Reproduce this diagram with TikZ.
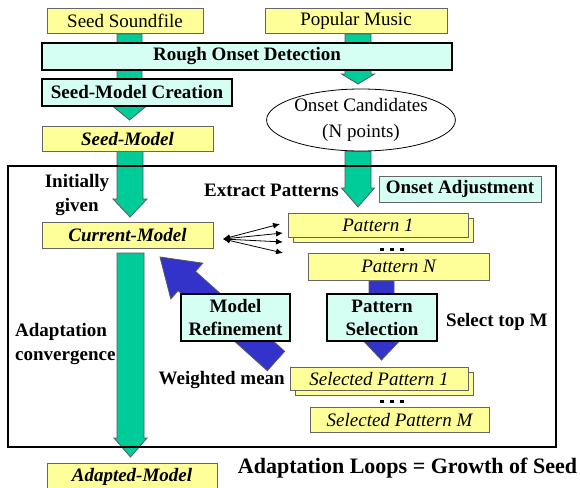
\documentclass[tikz,border=0pt]{standalone}
\usepackage{fontspec}
\setmainfont{Liberation Serif}
\usetikzlibrary{calc,shapes.geometric,arrows.meta}

\definecolor{padyellow}{RGB}{255,255,153}
\definecolor{procmint}{RGB}{214,255,243}
\definecolor{flowgreen}{RGB}{0,204,153}
\definecolor{flowblue}{RGB}{51,51,204}

% Block arrow: #1 fill, #2 start, #3 tip, #4 half shaft width,
% #5 half head width, #6 head length
\newcommand{\fatarrow}[6]{%
  \coordinate (fa-s) at (#2);
  \coordinate (fa-t) at (#3);
  \coordinate (fa-h) at ($(fa-t)!#6!(fa-s)$);
  \filldraw[blockedge, fill=#1]
    ($(fa-s)!#4!90:(fa-t)$) -- ($(fa-h)!#4!-90:(fa-s)$) --
    ($(fa-h)!#5!-90:(fa-s)$) -- (fa-t) --
    ($(fa-h)!#5!90:(fa-s)$) -- ($(fa-h)!#4!90:(fa-s)$) --
    ($(fa-s)!#4!-90:(fa-t)$) -- cycle;
}

% Three square dots centred on a point
\newcommand{\ellipsisdots}[1]{%
  \foreach \dx in {-10,0,10}
    \fill ($(#1)+(\dx,0)$) ++(-1.6,-1.6) rectangle ++(3.2,3.2);
}

\begin{document}
\begin{tikzpicture}[x=1pt,y=-1pt,
  every node/.style={font=\fontsize{19}{23}\selectfont, inner sep=0pt, align=center},
  blockedge/.style={draw=black!65, line width=0.8pt, line join=miter},
  databox/.style={draw=black!60, line width=0.8pt, fill=padyellow},
  procbox/.style={draw=black, line width=2pt, fill=procmint,
    font=\fontsize{19}{23}\selectfont\bfseries},
  notebox/.style={draw=black!60, line width=0.8pt, fill=procmint,
    font=\fontsize{19}{23}\selectfont\bfseries},
  caption/.style={font=\fontsize{19}{24}\selectfont\bfseries},
  fan/.style={{Latex[length=7pt,width=6pt]}-{Latex[length=7pt,width=6pt]}, line width=0.8pt}
]
\clip (0,0) rectangle (580,487);
\fill[white] (0,0) rectangle (580,487);

% ---------- flow arrows (drawn first, boxes sit on top) ----------
\fatarrow{flowgreen}{129.5,34}{129.5,120}{12.5pt}{17pt}{14pt}
\fatarrow{flowgreen}{358,34}{358,84}{13pt}{16.5pt}{10pt}
\fatarrow{flowgreen}{130,151}{130,217}{13pt}{17pt}{18pt}
\fatarrow{flowgreen}{358,151}{358,207}{13pt}{16.5pt}{19pt}
\fatarrow{flowgreen}{130.5,253}{130.5,457}{13.5pt}{16.5pt}{19pt}
\fatarrow{flowblue}{381.5,281}{381.5,360}{12.5pt}{17pt}{18pt}
\fatarrow{flowblue}{276,361}{160,257}{13pt}{24pt}{36pt}

% ---------- input stage ----------
\node[databox, minimum width=156pt, minimum height=25pt] (seedsf) at (125,20.5) {Seed Soundfile};
\node[databox, minimum width=182pt, minimum height=25pt] (popmus) at (356,20.5) {Popular Music};
\node[procbox, minimum width=410pt, minimum height=27pt] (rough) at (247,56.5) {Rough Onset Detection};
\node[procbox, minimum width=190pt, minimum height=27pt] (smc) at (137,92.5) {Seed-Model Creation};
\node[databox, minimum width=171pt, minimum height=25pt,
  font=\fontsize{19}{23}\selectfont\bfseries\itshape] (seedmodel) at (127.5,138.5) {Seed-Model};
\node[ellipse, draw=black, line width=0.8pt, fill=white, minimum width=182pt,
  minimum height=62pt, font=\fontsize{19}{26}\selectfont] (cand) at (361,120)
  {Onset Candidates\\(N points)};

% ---------- adaptation loop ----------
\draw[line width=2.2pt] (8,166) rectangle (556,447);

\node[caption] (initgiven) at (77,195) {Initially\\given};
\node[caption] (extract) at (271.5,190) {Extract Patterns};
\node[notebox, minimum width=162pt, minimum height=26pt] (adjust) at (460,189) {Onset Adjustment};

\node[databox, minimum width=171pt, minimum height=26pt,
  font=\fontsize{19}{23}\selectfont\bfseries\itshape] (current) at (127.5,235) {Current-Model};

% pattern stack
\node[databox, minimum width=180pt, minimum height=24pt] (pat1back) at (383,230) {};
\node[databox, minimum width=180pt, minimum height=24pt,
  font=\fontsize{19}{23}\selectfont\itshape] (pat1) at (378,225) {Pattern 1};
\coordinate (dotsA) at (392,249.5);
\ellipsisdots{dotsA}
\node[databox, minimum width=181pt, minimum height=27pt,
  font=\fontsize{19}{23}\selectfont\itshape] (patN) at (398.5,266.5) {Pattern N};

% fan of links between the model and the patterns
\coordinate (fanroot) at (223,239);
\coordinate (fanA) at (280,224);
\coordinate (fanB) at (283,233);
\coordinate (fanC) at (283,242);
\coordinate (fanD) at (283,253);
\foreach \t in {fanA,fanB,fanC,fanD}
  \draw[fan] (fanroot) -- (\t);

\node[procbox, minimum width=110pt, minimum height=47pt] (patsel) at (382,317.5) {Pattern\\Selection};
\node[caption, anchor=west] (topm) at (446,322) {Select top M};
\node[procbox, minimum width=109pt, minimum height=47pt] (modref) at (235.5,317.5) {Model\\Refinement};
\node[caption, anchor=east] (wmean) at (285,380) {Weighted mean};
\node[caption, align=left, anchor=west] (adconv) at (15,344) {Adaptation\\convergence};

% selected pattern stack
\node[databox, minimum width=178pt, minimum height=23pt] (sel1back) at (384,383.5) {};
\node[databox, minimum width=178pt, minimum height=23pt,
  font=\fontsize{19}{23}\selectfont\itshape] (sel1) at (379,378.5) {Selected Pattern 1};
\coordinate (dotsB) at (392,401.5);
\ellipsisdots{dotsB}
\node[databox, minimum width=179pt, minimum height=25pt,
  font=\fontsize{19}{23}\selectfont\itshape] (selM) at (399.5,419.5) {Selected Pattern M};

% ---------- result ----------
\node[databox, minimum width=170pt, minimum height=28pt,
  font=\fontsize{19}{23}\selectfont\bfseries\itshape] (adapted) at (132,477) {Adapted-Model};
\node[font=\fontsize{22}{26}\selectfont\bfseries] (loopcap) at (407.5,468) {Adaptation Loops = Growth of Seed};
\end{tikzpicture}
\end{document}
